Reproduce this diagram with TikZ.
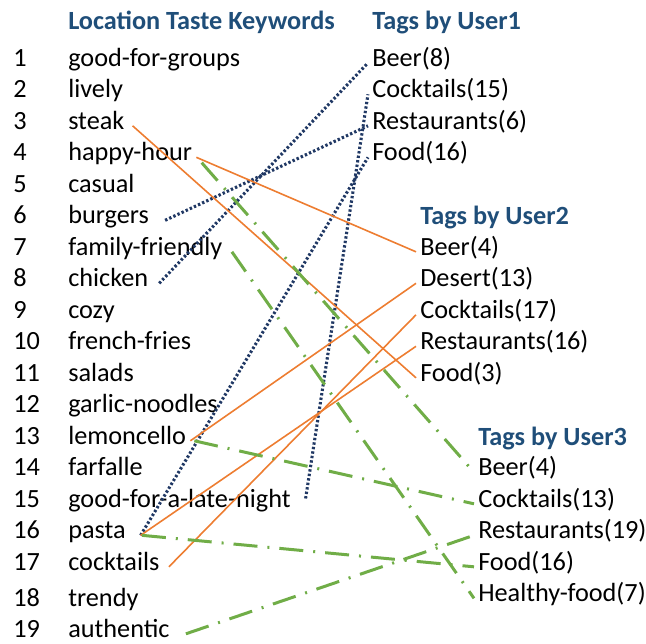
\documentclass[tikz,border=0pt]{standalone}
\usepackage{fontspec}
\setmainfont{Carlito}
\usetikzlibrary{positioning}

\definecolor{titleblue}{HTML}{1F4E79}
\definecolor{navy}{HTML}{203864}
\definecolor{orangeline}{HTML}{ED7D31}
\definecolor{greenline}{HTML}{70AD47}

\tikzset{
  word/.style={anchor=base west, inner sep=3pt, font=\fontsize{19.7}{23}\selectfont},
  heading/.style={word, font=\fontsize{19.7}{23}\selectfont\bfseries, text=titleblue},
  userone/.style={navy, line width=2.3pt, dash pattern=on 1.8pt off 1.6pt},
  usertwo/.style={orangeline, line width=1.2pt},
  userthree/.style={greenline, line width=2.25pt, dash pattern=on 18pt off 7.5pt on 1.5pt off 7.5pt}
}

\begin{document}
\begin{tikzpicture}[x=0.75pt,y=-0.75pt]
\useasboundingbox (0,-2) rectangle (646,641);
% Headings
\node[heading] (hkw) at (64,27) {Location Taste Keywords};
\node[heading] (hu1) at (368,27) {Tags by User1};
\node[heading] (hu2) at (416,222) {Tags by User2};
\node[heading] (hu3) at (474,443) {Tags by User3};
% Keyword list
\foreach \i/\y/\kw in {1/64/good-for-groups, 2/95.5/lively, 3/127/steak,
    4/158.5/happy-hour, 5/190/casual, 6/221.5/burgers, 7/253/family-friendly,
    8/284.5/chicken, 9/316/cozy, 10/347.5/french-fries, 11/379/salads,
    12/410.5/garlic-noodles, 13/442/lemoncello, 14/473.5/farfalle,
    15/505/good-for-a-late-night, 16/536.5/pasta, 17/568/cocktails,
    18/604/trendy, 19/635/authentic} {
  \node[word] (num\i) at (9,\y) {\i};
  \node[word] (kw\i) at (64,\y) {\kw};
}
% Tags by User1
\node[word] (u1beer) at (368,64) {Beer(8)};
\node[word] (u1cock) at (368,95.5) {Cocktails(15)};
\node[word] (u1rest) at (368,127) {Restaurants(6)};
\node[word] (u1food) at (368,158.5) {Food(16)};
% Tags by User2
\node[word] (u2beer) at (416,253) {Beer(4)};
\node[word] (u2des) at (416,284.5) {Desert(13)};
\node[word] (u2cock) at (416,316) {Cocktails(17)};
\node[word] (u2rest) at (416,347.5) {Restaurants(16)};
\node[word] (u2food) at (416,379) {Food(3)};
% Tags by User3
\node[word] (u3beer) at (474,473.5) {Beer(4)};
\node[word] (u3cock) at (474,505) {Cocktails(13)};
\node[word] (u3rest) at (474,536.5) {Restaurants(19)};
\node[word] (u3food) at (474,568) {Food(16)};
\node[word] (u3health) at (474,599.5) {Healthy-food(7)};
% User1 links
\draw[userone] ([xshift=9pt]kw6.mid east) -- (u1rest.mid west);
\draw[userone] ([xshift=5pt]kw8.mid east) -- (u1beer.mid west);
\draw[userone] ([xshift=8pt]kw16.mid east) -- (u1food.mid west);
\draw[userone] ([xshift=8pt,yshift=4pt]kw15.mid east) -- (u1cock.mid west);
% User2 links
\draw[usertwo] ([xshift=3pt]kw3.mid east) -- (u2food.mid west);
\draw[usertwo] (kw4.mid east) -- (u2beer.mid west);
\draw[usertwo] (kw13.mid east) -- (u2des.mid west);
\draw[usertwo] ([xshift=8pt]kw16.mid east) -- (u2rest.mid west);
\draw[usertwo] ([xshift=4pt]kw17.mid east) -- (u2cock.mid west);
% User3 links
\draw[userthree] ([xshift=4pt,yshift=-4pt]kw4.mid east) -- (u3beer.mid west);
\draw[userthree] ([xshift=4pt]kw7.mid east) -- (u3health.mid west);
\draw[userthree] ([xshift=3pt]kw13.mid east) -- (u3cock.mid west);
\draw[userthree] ([xshift=9pt]kw16.mid east) -- (u3food.mid west);
\draw[userthree] ([xshift=9pt]kw19.mid east) -- (u3rest.mid west);
\end{tikzpicture}
\end{document}
